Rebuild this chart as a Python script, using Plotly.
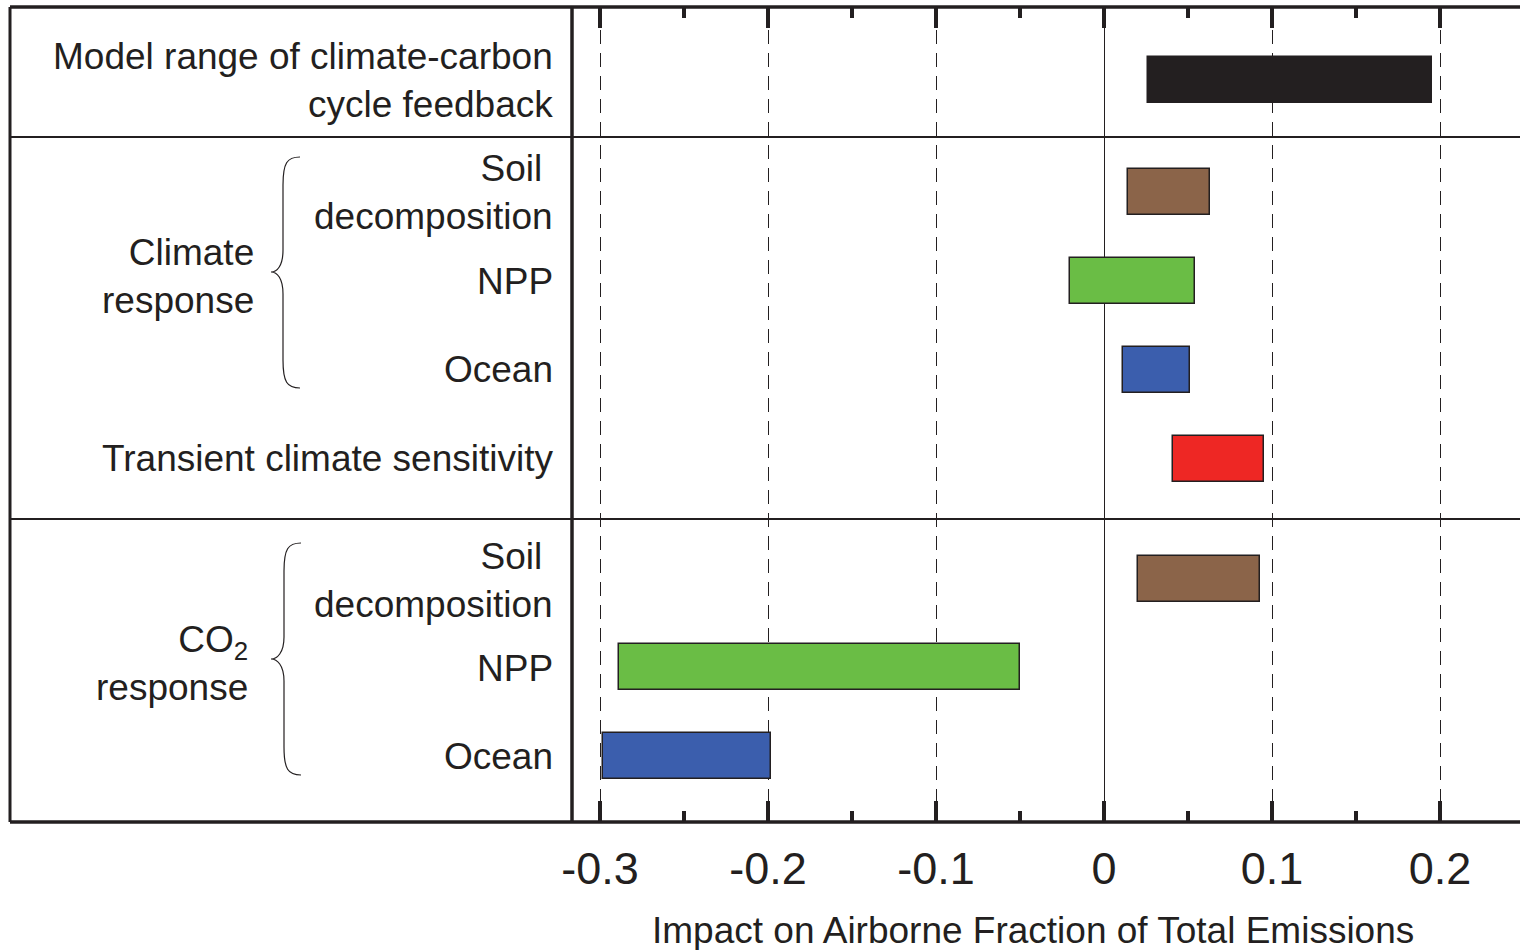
import plotly.graph_objects as go

# ---- data ----
row_labels = ["Model range of climate-carbon cycle feedback",
              "Climate: Soil decomposition", "Climate: NPP", "Climate: Ocean",
              "Transient climate sensitivity",
              "CO2: Soil decomposition", "CO2: NPP", "CO2: Ocean"]
bar_start = [0.026, 0.014, -0.020, 0.011, 0.041, 0.020, -0.289, -0.298]
bar_end   = [0.195, 0.063, 0.054, 0.051, 0.095, 0.093, -0.050, -0.198]
bar_colors = ["#231f20", "#8b6449", "#6abd45", "#3b5ead", "#ee2724",
              "#8b6449", "#6abd45", "#3b5ead"]
tick_vals = [-0.3, -0.2, -0.1, 0, 0.1, 0.2]
tick_text = ["-0.3", "-0.2", "-0.1", "0", "0.1", "0.2"]
x_title = "Impact on Airborne Fraction of Total Emissions"

# ---- layout helpers (pixel-based positions) ----
W, H = 1520, 950
ML, MR, MT, MB = 10, 0, 7, 128
PW = W - ML - MR          # 1510
PH = H - MT - MB          # 815
split_px = 572            # divider between label panel and plot
dom_split = (split_px - ML) / PW
row_y = [73, 185, 274, 363, 452, 572, 660, 749]   # row centres (px from top of plot)
bar_h = 46
INK = "#231f20"
FONT = "Liberation Sans, Arial, Helvetica, sans-serif"

def py(p):   # page pixel y -> y data
    return p - MT

def px2(p):  # page pixel x -> x2 data
    return p - ML

fig = go.Figure()
fig.add_trace(go.Bar(
    y=row_y, x=[e - s for s, e in zip(bar_start, bar_end)], base=bar_start,
    orientation="h", width=bar_h,
    marker=dict(color=bar_colors, line=dict(color=INK, width=1.5)),
    text=row_labels, hoverinfo="text", textposition="none",
    xaxis="x", yaxis="y", showlegend=False,
))
# invisible trace so the top tick axis is drawn
fig.add_trace(go.Scatter(x=[bar_start[0]], y=[row_y[0]], mode="markers",
                         marker=dict(opacity=0), xaxis="x3", yaxis="y",
                         hoverinfo="skip", showlegend=False))

shapes = []
def line(x0, y0, x1, y1, w, xref="x2", yref="y"):
    shapes.append(dict(type="line", x0=x0, y0=y0, x1=x1, y1=y1, xref=xref, yref=yref,
                       line=dict(color=INK, width=w), layer="above"))

# frame
line(0, 0, 1, 0, 3.5, xref="paper", yref="paper")
line(0, 1, 1, 1, 3.5, xref="paper", yref="paper")
line(0, 0, 0, 1, 3, xref="paper", yref="paper")
line(dom_split, 0, dom_split, 1, 3.5, xref="paper", yref="paper")
# section lines
line(0, py(137), 1, py(137), 2, xref="paper", yref="y")
line(0, py(519), 1, py(519), 2, xref="paper", yref="y")

# braces
def brace(x_end, x_mid, x_tip, y_top, y_tip, y_bot):
    a, b, c = px2(x_end), px2(x_mid), px2(x_tip)
    t, m, bt = py(y_top), py(y_tip), py(y_bot)
    path = (f"M {a},{t} C {b+4},{t} {b},{t+6} {b},{t+28} "
            f"L {b},{m-22} C {b},{m-6} {c+6},{m} {c},{m} "
            f"C {c+6},{m} {b},{m+6} {b},{m+22} "
            f"L {b},{bt-28} C {b},{bt-6} {b+4},{bt} {a},{bt}")
    shapes.append(dict(type="path", path=path, xref="x2", yref="y",
                       line=dict(color=INK, width=1.2), layer="above"))

brace(300, 283, 271, 157, 272, 388)
brace(301, 284, 271, 543, 659, 775)

annotations = []
def label(text, x, y, size=37, align="right", xanchor="right"):
    annotations.append(dict(text=text, x=px2(x), y=py(y), xref="x2", yref="y",
                            xanchor=xanchor, yanchor="middle", align=align,
                            showarrow=False, font=dict(size=size, color=INK, family=FONT)))

label("Model range of climate-carbon<br>cycle feedback", 555, 80)
label("Soil\u00a0<br>decomposition", 555, 192)
label("NPP", 555, 281)
label("Ocean", 555, 369)
label("Transient climate sensitivity", 555, 458)
label("Climate<br>response", 256, 276)
label("Soil\u00a0<br>decomposition", 555, 580)
label("NPP", 555, 668)
label("Ocean", 555, 756)
label("CO<sub>2</sub><br>response", 250, 663)

annotations.append(dict(text=x_title, x=(1033 - ML) / PW, y=-(930 - MT - PH) / PH,
                        xref="paper", yref="paper", xanchor="center", yanchor="middle",
                        showarrow=False, font=dict(size=37, color=INK, family=FONT)))

xr = [-0.3167, 0.2476]
common_ticks = dict(range=xr, domain=[dom_split, 1], tickvals=tick_vals,
                    ticks="inside", ticklen=21, tickwidth=3.5, tickcolor=INK,
                    minor=dict(dtick=0.05, tick0=0, ticks="inside", ticklen=11,
                               tickwidth=3.5, tickcolor=INK, showgrid=False),
                    showline=False, fixedrange=True)

fig.update_layout(
    width=W, height=H,
    margin=dict(l=ML, r=MR, t=MT, b=MB),
    paper_bgcolor="white", plot_bgcolor="white",
    font=dict(family=FONT, color=INK),
    bargap=0,
    xaxis=dict(**common_ticks, ticktext=tick_text, showticklabels=True,
               tickfont=dict(size=45, color=INK, family=FONT), ticklabelstandoff=16,
               showgrid=True, gridcolor=INK, gridwidth=1, griddash="14px,9px",
               zeroline=True, zerolinecolor=INK, zerolinewidth=1),
    xaxis3=dict(**common_ticks, overlaying="x", side="top", showticklabels=False,
                showgrid=False, zeroline=False, anchor="y"),
    xaxis2=dict(domain=[0, dom_split], range=[0, split_px - ML], visible=False,
                fixedrange=True, anchor="y"),
    yaxis=dict(range=[PH, 0], visible=False, fixedrange=True),
    shapes=shapes, annotations=annotations,
)

fig.write_html("out.html", config={"displayModeBar": False},
               post_script="document.body.style.margin='0';")
